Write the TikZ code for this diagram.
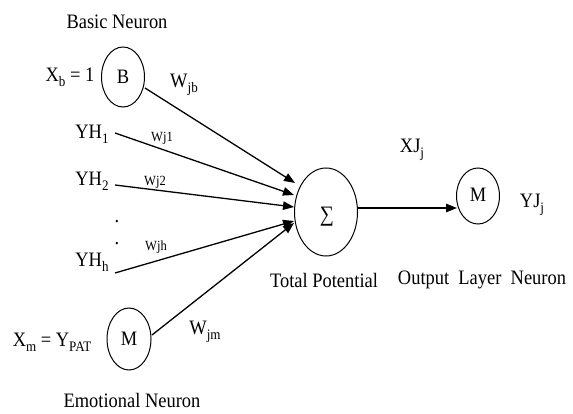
\documentclass[tikz,border=0pt]{standalone}
\usepackage{fontspec}
\setmainfont{Liberation Serif}[FakeStretch=0.9]
\usetikzlibrary{arrows.meta}
\newcommand\lsub[1]{\raisebox{-0.25em}{\fontsize{14.5}{14.5}\selectfont #1}}
\begin{document}
\begin{tikzpicture}[x=1pt,y=-1pt,
  lbl/.style={inner sep=0pt,font=\fontsize{20.5}{21}\selectfont},
  wsm/.style={inner sep=0pt,font=\fontsize{14}{14}\selectfont},
  ring/.style={line width=1pt},
  conn/.style={line width=1.3pt,-{Triangle[length=11pt,width=8.5pt]}}]
\useasboundingbox (0,0) rectangle (573,414);
% ellipses
\draw[ring] (123,77) ellipse [x radius=21.5, y radius=30];
\node[lbl] (B) at (123,77) {B};
\coordinate (Bout) at (145,88);
\draw[ring] (326,212) ellipse [x radius=31.5, y radius=44];
\node[inner sep=0pt,font=\fontsize{22}{22}\selectfont] (S) at (327,217) {∑};
\draw[ring] (129,339) ellipse [x radius=22, y radius=31];
\node[lbl] (M) at (129,339) {M};
\coordinate (Mout) at (152,335);
\draw[ring] (478,196) ellipse [x radius=21.5, y radius=28];
\node[lbl] (O) at (478,195) {M};
% labels
\node[lbl] (basic) at (117,22) {Basic Neuron};
\node[lbl] (xb) at (70,77) {X\lsub{b} = 1};
\node[lbl] (wjb) at (184,85) {W\lsub{jb}};
\node[lbl] (yh1) at (92,134) {YH\lsub{1}};
\node[lbl] (yh2) at (92,181) {YH\lsub{2}};
\node[lbl] (yhh) at (92,262) {YH\lsub{h}};
\node[lbl] (d1) at (117,222) {.};
\node[lbl] (d2) at (117,244) {.};
\node[wsm] (w1) at (162,138) {Wj1};
\node[wsm] (w2) at (155,182) {Wj2};
\node[wsm] (wh) at (156,247) {Wjh};
\node[lbl] (xm) at (52,342) {X\lsub{m} = Y\lsub{PAT}};
\node[lbl] (wjm) at (205,332) {W\lsub{jm}};
\node[lbl] (emo) at (132,400) {Emotional Neuron};
\node[lbl] (tot) at (324,280) {Total Potential};
\node[lbl] (out) at (482,280) {Output\ \ Layer\ \ Neuron};
\node[lbl] (xj) at (412,150) {XJ\lsub{j}};
\node[lbl] (yj) at (532,205) {YJ\lsub{j}};
% connector endpoints
\coordinate (s1) at (115,133);
\coordinate (s2) at (115,185);
\coordinate (sh) at (115,273);
\coordinate (t0) at (295,183);
\coordinate (t1) at (294,195);
\coordinate (t2) at (294,207);
\coordinate (th) at (294,221);
\coordinate (tm) at (294,223);
\coordinate (so) at (358,208);
\coordinate (to) at (457,208);
\draw[conn] (Bout) -- (t0);
\draw[conn] (s1) -- (t1);
\draw[conn] (s2) -- (t2);
\draw[conn] (sh) -- (th);
\draw[conn] (Mout) -- (tm);
\draw[conn] (so) -- (to);
\end{tikzpicture}
\end{document}
